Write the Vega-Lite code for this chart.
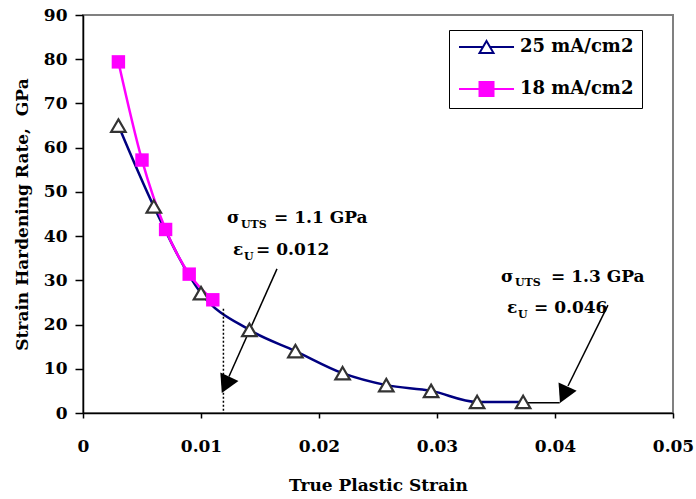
{
  "$schema": "https://vega.github.io/schema/vega-lite/v6.json",
  "width": 590,
  "height": 398,
  "autosize": {"type": "none"},
  "padding": {"left": 83, "top": 15, "right": 23, "bottom": 86},
  "background": "white",
  "config": {
    "font": "DejaVu Serif",
    "view": {"stroke": "#808080", "strokeWidth": 2},
    "axis": {
      "labelFont": "DejaVu Serif", "labelFontWeight": "bold", "labelFontSize": 17, "labelColor": "black",
      "titleFont": "DejaVu Serif", "titleFontWeight": "bold", "titleFontSize": 17, "titleColor": "black",
      "domainColor": "black", "tickColor": "black", "grid": false, "domainWidth": 1.5, "tickWidth": 1.5,
      "labelFlush": false, "labelOverlap": false
    },
    "legend": {
      "orient": "none", "legendX": 366, "legendY": 15,
      "labelFont": "DejaVu Serif", "labelFontWeight": "bold", "labelFontSize": 18, "labelColor": "black",
      "symbolSize": 196, "symbolStrokeWidth": 2, "labelOffset": 45, "rowPadding": 20, "padding": 8,
      "strokeColor": "black", "fillColor": "white", "cornerRadius": 0
    }
  },
  "datasets": {
    "curves": [
      {"series": "25 mA/cm2", "strain": 0.003, "rate": 65.0},
      {"series": "25 mA/cm2", "strain": 0.006, "rate": 46.7},
      {"series": "25 mA/cm2", "strain": 0.010, "rate": 27.1},
      {"series": "25 mA/cm2", "strain": 0.0141, "rate": 18.8},
      {"series": "25 mA/cm2", "strain": 0.018, "rate": 14.0},
      {"series": "25 mA/cm2", "strain": 0.022, "rate": 9.0},
      {"series": "25 mA/cm2", "strain": 0.0257, "rate": 6.3},
      {"series": "25 mA/cm2", "strain": 0.0295, "rate": 5.0},
      {"series": "25 mA/cm2", "strain": 0.0334, "rate": 2.5},
      {"series": "25 mA/cm2", "strain": 0.0373, "rate": 2.5},
      {"series": "18 mA/cm2", "strain": 0.003, "rate": 79.4},
      {"series": "18 mA/cm2", "strain": 0.005, "rate": 57.2},
      {"series": "18 mA/cm2", "strain": 0.007, "rate": 41.5},
      {"series": "18 mA/cm2", "strain": 0.009, "rate": 31.4},
      {"series": "18 mA/cm2", "strain": 0.011, "rate": 25.6}
    ],
    "segments": [
      {"kind": "solid", "x1": 0.01644, "y1": 32.6, "x2": 0.01237, "y2": 8.26},
      {"kind": "solid", "x1": 0.04449, "y1": 24.4, "x2": 0.0411, "y2": 6.1},
      {"kind": "solid", "x1": 0.0373, "y1": 2.3, "x2": 0.0404, "y2": 2.3},
      {"kind": "dotted", "x1": 0.0119, "y1": 23.6, "x2": 0.0119, "y2": 0}
    ],
    "heads": [
      {"x": 0.01212, "y": 6.56},
      {"x": 0.04078, "y": 4.32}
    ],
    "texts": [
      {"kind": "main", "label": "σ", "x": 0.0122, "y": 43.0},
      {"kind": "sub", "label": "UTS", "x": 0.01339, "y": 41.86},
      {"kind": "main", "label": "= 1.1 GPa", "x": 0.01619, "y": 43.0},
      {"kind": "main", "label": "ε", "x": 0.01271, "y": 35.75},
      {"kind": "sub", "label": "U", "x": 0.01364, "y": 34.6},
      {"kind": "main", "label": "= 0.012", "x": 0.01466, "y": 35.75},
      {"kind": "main", "label": "σ", "x": 0.03542, "y": 29.64},
      {"kind": "sub", "label": "UTS", "x": 0.03661, "y": 28.7},
      {"kind": "main", "label": "= 1.3 GPa", "x": 0.03966, "y": 29.64},
      {"kind": "main", "label": "ε", "x": 0.03593, "y": 22.6},
      {"kind": "sub", "label": "U", "x": 0.03686, "y": 21.5},
      {"kind": "main", "label": "= 0.046", "x": 0.03822, "y": 22.6}
    ]
  },
  "encoding": {
    "x": {
      "type": "quantitative",
      "scale": {"domain": [0, 0.05], "nice": false},
      "axis": {"values": [0, 0.01, 0.02, 0.03, 0.04, 0.05], "format": "~g", "tickSize": 5, "labelPadding": 20, "title": "True Plastic Strain", "titlePadding": 23}
    },
    "y": {
      "type": "quantitative",
      "scale": {"domain": [0, 90], "nice": false},
      "axis": {"values": [0, 10, 20, 30, 40, 50, 60, 70, 80, 90], "tickSize": 8, "labelPadding": 8, "title": "Strain Hardening Rate,\u00a0 GPa", "titlePadding": 12}
    }
  },
  "layer": [
    {
      "data": {"name": "curves"},
      "transform": [{"filter": "datum.series === '25 mA/cm2'"}],
      "mark": {"type": "line", "interpolate": "monotone", "strokeWidth": 2.5, "color": "#000080"},
      "encoding": {
        "x": {"field": "strain", "type": "quantitative"},
        "y": {"field": "rate", "type": "quantitative"}
      }
    },
    {
      "data": {"name": "curves"},
      "transform": [{"filter": "datum.series === '18 mA/cm2'"}],
      "mark": {"type": "line", "interpolate": "monotone", "strokeWidth": 2.5, "color": "#ff00ff"},
      "encoding": {
        "x": {"field": "strain", "type": "quantitative"},
        "y": {"field": "rate", "type": "quantitative"}
      }
    },
    {
      "data": {"name": "segments"},
      "transform": [{"filter": "datum.kind === 'solid'"}],
      "mark": {"type": "rule", "color": "black", "strokeWidth": 1.5},
      "encoding": {
        "x": {"field": "x1", "type": "quantitative"},
        "y": {"field": "y1", "type": "quantitative"},
        "x2": {"field": "x2"},
        "y2": {"field": "y2"}
      }
    },
    {
      "data": {"name": "segments"},
      "transform": [{"filter": "datum.kind === 'dotted'"}],
      "mark": {"type": "rule", "color": "black", "strokeWidth": 1.5, "strokeDash": [2, 2]},
      "encoding": {
        "x": {"field": "x1", "type": "quantitative"},
        "y": {"field": "y1", "type": "quantitative"},
        "x2": {"field": "x2"},
        "y2": {"field": "y2"}
      }
    },
    {
      "data": {"name": "curves"},
      "transform": [{"filter": "datum.series === '25 mA/cm2'"}],
      "mark": {"type": "point", "shape": "M0,-0.86L1,0.86L-1,0.86Z", "size": 210, "filled": true, "fill": "white", "stroke": "#333333", "strokeWidth": 2.2, "opacity": 1},
      "encoding": {
        "x": {"field": "strain", "type": "quantitative"},
        "y": {"field": "rate", "type": "quantitative"}
      }
    },
    {
      "data": {"name": "curves"},
      "transform": [{"filter": "datum.series === '18 mA/cm2'"}],
      "mark": {"type": "point", "shape": "square", "size": 180, "filled": true, "fill": "#ff00ff", "opacity": 1},
      "encoding": {
        "x": {"field": "strain", "type": "quantitative"},
        "y": {"field": "rate", "type": "quantitative"}
      }
    },
    {
      "data": {"name": "heads"},
      "mark": {"type": "point", "shape": "M0,1L1,-0.8L-1,-0.8Z", "size": 400, "angle": 25, "filled": true, "fill": "black", "opacity": 1},
      "encoding": {
        "x": {"field": "x", "type": "quantitative"},
        "y": {"field": "y", "type": "quantitative"}
      }
    },
    {
      "data": {"name": "texts"},
      "transform": [{"filter": "datum.kind === 'main'"}],
      "mark": {"type": "text", "align": "left", "baseline": "alphabetic", "font": "DejaVu Serif", "fontWeight": "bold", "fontSize": 17, "color": "black"},
      "encoding": {
        "x": {"field": "x", "type": "quantitative"},
        "y": {"field": "y", "type": "quantitative"},
        "text": {"field": "label"}
      }
    },
    {
      "data": {"name": "texts"},
      "transform": [{"filter": "datum.kind === 'sub'"}],
      "mark": {"type": "text", "align": "left", "baseline": "alphabetic", "font": "DejaVu Serif", "fontWeight": "bold", "fontSize": 11, "color": "black"},
      "encoding": {
        "x": {"field": "x", "type": "quantitative"},
        "y": {"field": "y", "type": "quantitative"},
        "text": {"field": "label"}
      }
    },
    {
      "data": {"name": "curves"},
      "transform": [{"filter": "false"}],
      "mark": {"type": "point", "filled": true, "strokeWidth": 2, "opacity": 1},
      "encoding": {
        "x": {"field": "strain", "type": "quantitative"},
        "y": {"field": "rate", "type": "quantitative"},
        "stroke": {"field": "series", "type": "nominal", "title": null,
          "scale": {"domain": ["25 mA/cm2", "18 mA/cm2"], "range": ["#000080", "#ff00ff"]}},
        "fill": {"field": "series", "type": "nominal", "title": null,
          "scale": {"domain": ["25 mA/cm2", "18 mA/cm2"], "range": ["white", "#ff00ff"]}},
        "shape": {"field": "series", "type": "nominal", "title": null,
          "scale": {"domain": ["25 mA/cm2", "18 mA/cm2"], "range": ["M-1,0H2.43M3.43,0H6.86M2.93,-0.86L3.93,0.86L1.93,0.86Z", "M-1,0H6.86M1.93,-1H3.93V1H1.93Z"]},
          "legend": {"strokeColor": "black", "fillColor": "white"}}
      }
    }
  ]
}
